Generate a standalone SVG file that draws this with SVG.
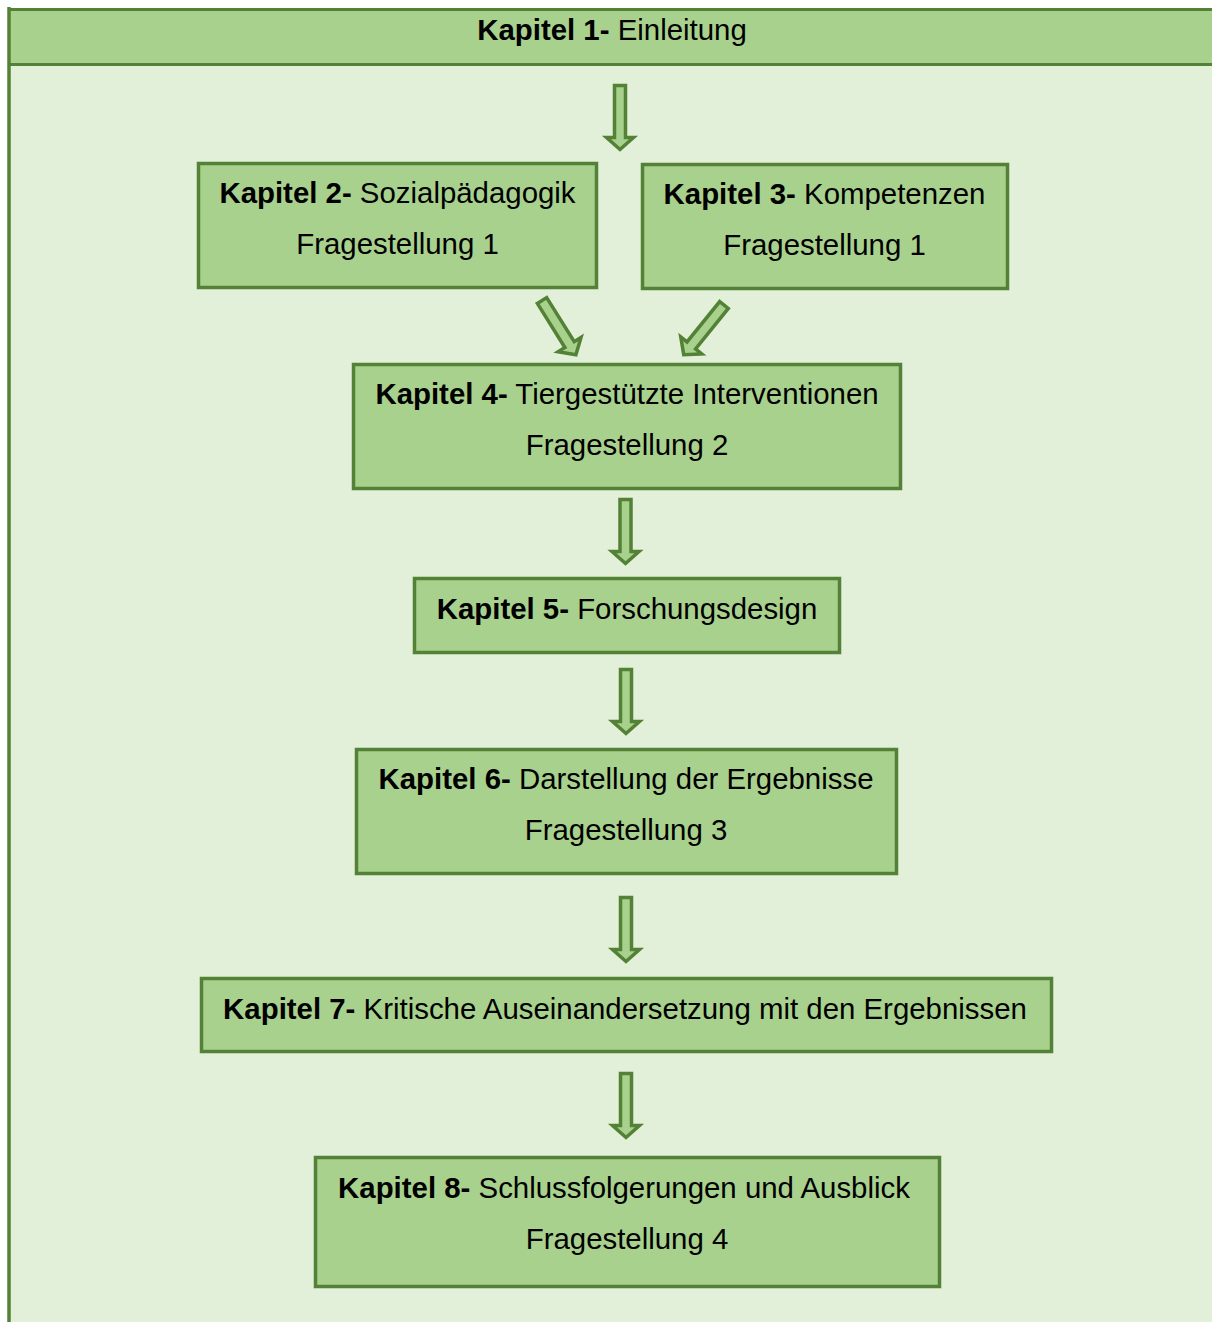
<svg xmlns="http://www.w3.org/2000/svg" width="1212" height="1322" viewBox="0 0 1212 1322">
<defs>
<style>
.box{fill:#A9D18E;stroke:#538135;stroke-width:3.5}
.arr{fill:#A9D18E;stroke:#538135;stroke-width:3.5;stroke-linejoin:miter}
text{font-family:"Liberation Sans",Arial,sans-serif;font-size:29.4px;fill:#000;text-anchor:middle}
.b{font-weight:bold}
</style>
<path id="arrow" d="M-5.5,0 H5.5 V52 H13.5 L0,64 L-13.5,52 H-5.5 Z"/>
</defs>
<rect x="0" y="0" width="1212" height="1322" fill="#ffffff"/>
<g id="frame">
<rect x="9" y="64" width="1203" height="1258" fill="#E2EFD9"/>
<rect x="9" y="9.5" width="1203" height="55" fill="#A9D18E"/>
<line x1="9" y1="9.5" x2="1212" y2="9.5" stroke="#538135" stroke-width="3"/>
<line x1="9" y1="64.5" x2="1212" y2="64.5" stroke="#538135" stroke-width="3"/>
<line x1="9" y1="7" x2="9" y2="1322" stroke="#538135" stroke-width="3.5"/>
</g>
<g id="kapitel1">
<text x="612" y="40"><tspan class="b">Kapitel 1-</tspan> Einleitung</text>
</g>
<g id="connectors">
<use href="#arrow" class="arr" transform="translate(620,85.5)"/>
<use href="#arrow" class="arr" transform="translate(542,300.5) rotate(-32)"/>
<use href="#arrow" class="arr" transform="translate(724,305) rotate(39)"/>
<use href="#arrow" class="arr" transform="translate(625.5,499.5)"/>
<use href="#arrow" class="arr" transform="translate(626,669.5)"/>
<use href="#arrow" class="arr" transform="translate(626,897.5)"/>
<use href="#arrow" class="arr" transform="translate(626,1073.5)"/>
</g>
<g id="kapitel2">
<rect class="box" x="198.5" y="163.5" width="398" height="124"/>
<text x="397.5" y="203"><tspan class="b">Kapitel 2-</tspan> Sozialpädagogik</text>
<text x="397.5" y="254">Fragestellung 1</text>
</g>
<g id="kapitel3">
<rect class="box" x="642.5" y="164.5" width="365" height="124"/>
<text x="824.5" y="204"><tspan class="b">Kapitel 3-</tspan> Kompetenzen</text>
<text x="824.5" y="255">Fragestellung 1</text>
</g>
<g id="kapitel4">
<rect class="box" x="353.5" y="364.5" width="547" height="124"/>
<text x="627" y="404"><tspan class="b">Kapitel 4-</tspan> Tiergestützte Interventionen</text>
<text x="627" y="455">Fragestellung 2</text>
</g>
<g id="kapitel5">
<rect class="box" x="414.5" y="578.5" width="425" height="74"/>
<text x="627" y="619"><tspan class="b">Kapitel 5-</tspan> Forschungsdesign</text>
</g>
<g id="kapitel6">
<rect class="box" x="356.5" y="749.5" width="540" height="124"/>
<text x="626" y="789"><tspan class="b">Kapitel 6-</tspan> Darstellung der Ergebnisse</text>
<text x="626" y="840">Fragestellung 3</text>
</g>
<g id="kapitel7">
<rect class="box" x="201.5" y="978.5" width="850" height="73"/>
<text x="625" y="1019"><tspan class="b">Kapitel 7-</tspan> Kritische Auseinandersetzung mit den Ergebnissen</text>
</g>
<g id="kapitel8">
<rect class="box" x="315.5" y="1157.5" width="624" height="129"/>
<text x="624" y="1198"><tspan class="b">Kapitel 8-</tspan> Schlussfolgerungen und Ausblick</text>
<text x="627" y="1249">Fragestellung 4</text>
</g>
</svg>
